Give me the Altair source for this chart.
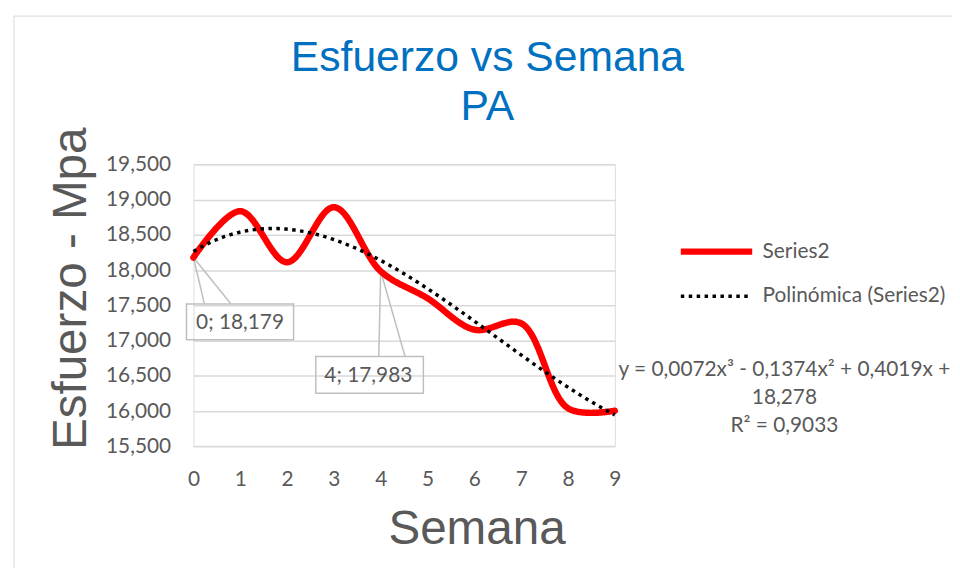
import altair as alt
import pandas as pd

# ---- data ----
semana = [0, 1, 2, 3, 4, 5, 6, 7, 8, 9]
esfuerzo = [18.179, 18.836, 18.112, 18.892, 17.983, 17.60, 17.155, 17.245, 16.04, 16.005]
y_ticks = [15.5, 16.0, 16.5, 17.0, 17.5, 18.0, 18.5, 19.0, 19.5]
x_ticks = [0, 1, 2, 3, 4, 5, 6, 7, 8, 9]
series_names = ["Series2", "Polinómica (Series2)"]
equation_text = "y = 0,0072x³ - 0,1374x² + 0,4019x +\n18,278\nR² = 0,9033"
callout_weeks = [0, 4]

df = pd.DataFrame({"semana": semana, "esfuerzo": esfuerzo})

GRAY = "#595959"
LFONT = "Lato"
TFONT = "Liberation Sans"

legend = alt.Legend(
    orient="none", legendX=488, legendY=76, title=None,
    symbolType="stroke", symbolSize=5184, clipHeight=24, rowPadding=21,
    labelOffset=7, labelFont=LFONT, labelFontSize=21, labelColor=GRAY,
    labelLimit=0, padding=0,
)

x_enc = alt.X("semana:Q", scale=alt.Scale(domain=[0, 9], nice=False, zero=False),
              axis=alt.Axis(values=x_ticks, grid=False, domain=False, ticks=False,
                            labelFlush=False,
                            labelPadding=22, labelFont=LFONT, labelFontSize=21,
                            labelColor=GRAY, title="Semana", titleFont=TFONT,
                            titleFontSize=48, titleFontWeight="normal", titleColor=GRAY,
                            titleX=285.5, titleY=98, titleBaseline="alphabetic",
                            titleAlign="center", titleAnchor="start"))
y_enc = alt.Y("esfuerzo:Q", scale=alt.Scale(domain=[15.5, 19.5], nice=False, zero=False),
              axis=alt.Axis(values=y_ticks, grid=True, gridColor="#D9D9D9", gridWidth=1.5,
                            domain=False, ticks=False, labelPadding=23, labelFlush=False,
                            labelExpr="replace(format(datum.value, '.3f'), '.', ',')",
                            labelFont=LFONT, labelFontSize=21, labelColor=GRAY,
                            title="Esfuerzo - Mpa", titleFont=TFONT, titleFontSize=48,
                            titleFontWeight="normal", titleColor=GRAY, titleAngle=270,
                            titleX=-109, titleY=125, titleBaseline="alphabetic",
                            titleAlign="center", titleAnchor="start"))

series_enc = dict(
    color=alt.Color("series:N", scale=alt.Scale(domain=series_names, range=["#FF0000", "#000000"]), legend=legend),
    strokeDash=alt.StrokeDash("series:N", scale=alt.Scale(domain=series_names, range=[[1, 0], [3.5, 4.5]]), legend=legend),
    strokeWidth=alt.StrokeWidth("series:N", scale=alt.Scale(type="point", domain=series_names, range=[6.5, 3.5], padding=0), legend=legend),
)

base = alt.Chart(df).encode(x=x_enc, y=y_enc)

line = base.transform_calculate(series="'Series2'").mark_line(
    interpolate="catmull-rom", strokeCap="round").encode(**series_enc)

trend = base.transform_regression("semana", "esfuerzo", method="poly", order=3).transform_calculate(
    series="'Polinómica (Series2)'").mark_line().encode(**series_enc)

lab = base.transform_filter(
    alt.FieldOneOfPredicate(field="semana", oneOf=callout_weeks)
).transform_calculate(
    label="datum.semana + '; ' + replace(format(datum.esfuerzo, '.3f'), '.', ',')"
)

BOX = "#BFBFBF"
def callout(week, box, t, l1, l2):
    d = lab.transform_filter(alt.datum.semana == week)
    rect = d.mark_rect(fill="transparent", stroke=BOX, strokeWidth=1.5,
                       xOffset=box[0], x2Offset=box[1], yOffset=box[2], y2Offset=box[3]
                       ).encode(x2="semana:Q", y2="esfuerzo:Q")
    r1 = d.mark_rule(color=BOX, strokeWidth=1.5, x2Offset=l1[0], y2Offset=l1[1]).encode(x2="semana:Q", y2="esfuerzo:Q")
    r2 = d.mark_rule(color=BOX, strokeWidth=1.5, x2Offset=l2[0], y2Offset=l2[1]).encode(x2="semana:Q", y2="esfuerzo:Q")
    txt = d.mark_text(dx=t[0], dy=t[1], font=LFONT, fontSize=21, color=GRAY,
                      align="center", baseline="middle").encode(text="label:N")
    return [r1, r2, rect, txt]

c1 = callout(0, (-7, 101, 47, 83), (47, 66), (11, 46.5), (37.5, 46.5))
c2 = callout(4, (-65.5, 43, 86, 123), (-12.5, 105.5), (-2, 86), (24.5, 86))

eq = alt.Chart(pd.DataFrame({"k": [0]})).mark_text(
    font=LFONT, fontSize=21, color=GRAY, align="center", baseline="alphabetic",
    lineBreak="\n", lineHeight=28.3, text=equation_text
).encode(x=alt.value(596), y=alt.value(213.5))

frame = alt.Chart(pd.DataFrame({"k": [0]})).mark_rect(
    fill="transparent", stroke="#D9D9D9", strokeWidth=1
).encode(x=alt.value(-181), x2=alt.value(780), y=alt.value(-149.5), y2=alt.value(440))

chart = alt.layer(frame, *c1, *c2, line, trend, eq).properties(
    width=425, height=284.4,
    autosize=alt.AutoSizeParams(type="none"),
    padding={"left": 187, "top": 155.3, "right": 340, "bottom": 120.3},
    title=alt.TitleParams(text=["Esfuerzo vs Semana", "PA"], font=TFONT, fontSize=43,
                          fontWeight="normal", color="#0070C0", anchor="middle",
                          dx=84, dy=118, lineHeight=49),
).configure_view(stroke=None).configure(background="white")

chart.save("out.html", embed_options={"renderer": "svg", "actions": False})
